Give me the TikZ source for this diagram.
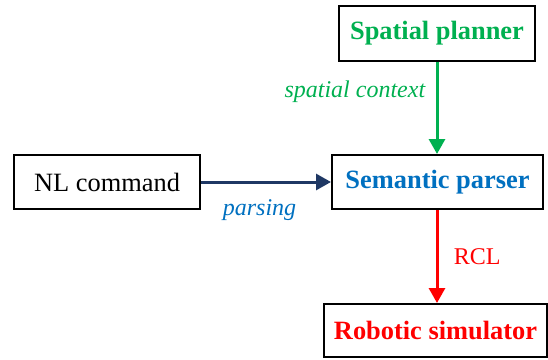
\documentclass[tikz,border=0pt]{standalone}
\usepackage{fontspec}
\setmainfont{Liberation Serif}
\usepackage{tikz}
\usetikzlibrary{arrows.meta}

\definecolor{plangreen}{RGB}{0,176,80}
\definecolor{parseblue}{RGB}{0,112,192}
\definecolor{navy}{RGB}{31,56,100}
\definecolor{simred}{RGB}{255,0,0}

\tikzset{
    block/.style={draw=black, line width=2pt, fill=white, inner sep=0pt,
        font=\fontsize{26.4}{30}\selectfont\bfseries},
    flow/.style={line width=3pt, -{Triangle[length=15pt,width=16pt]}},
    tag/.style={font=\fontsize{24}{28}\selectfont}
}

\begin{document}
\begin{tikzpicture}[x=1pt, y=1pt]
        \useasboundingbox (0,0) rectangle (548,-359);

        % boxes
        \node[block, text=plangreen, minimum width=196pt, minimum height=55pt] (planner) at (437,-33.5) {Spatial planner};
        \node[block, font=\fontsize{26.4}{30}\selectfont, minimum width=186pt, minimum height=54pt] (command) at (107,-182) {NL command};
        \node[block, text=parseblue, minimum width=211pt, minimum height=54pt] (parser) at (437.5,-182) {Semantic parser};
        \node[block, text=simred, minimum width=223pt, minimum height=53pt] (simulator) at (435.5,-330.5) {Robotic simulator};

        % spatial context
        \draw[flow, plangreen] (planner.south -| 437,0) -- node[tag, pos=0.32, left=7pt] {\itshape spatial context} (parser.north -| 437,0);
        % parsing
        \draw[flow, navy] (command) -- node[tag, pos=0.45, below=13pt, text=parseblue] {\itshape parsing} (parser);
        % RCL
        \draw[flow, simred] (parser.south -| 437,0) -- node[tag, midway, right=12pt] {RCL} (simulator.north -| 437,0);
    \end{tikzpicture}
\end{document}
